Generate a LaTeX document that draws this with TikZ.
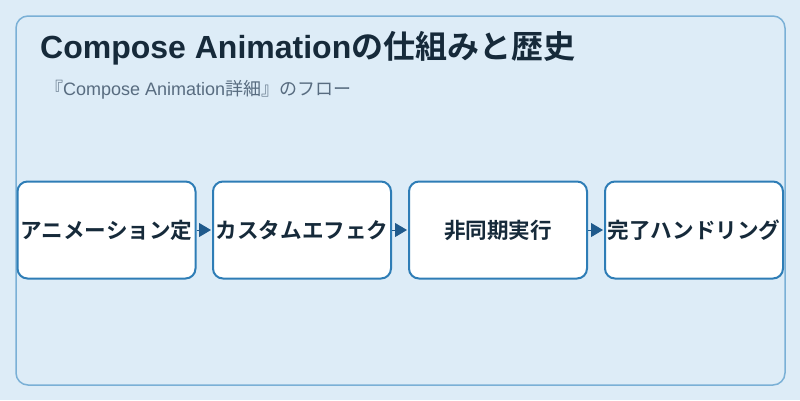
\documentclass[tikz,border=0pt]{standalone}
\usepackage{fontspec}
\setmainfont{Liberation Sans}
\newfontfamily\jpfont{Noto Sans CJK JP}
\newfontfamily\jpbold{Noto Sans CJK JP Bold}
\newfontfamily\latbold{Liberation Sans Bold}
\newfontfamily\latreg{Liberation Sans}
\usetikzlibrary{arrows.meta}
\definecolor{bgcol}{RGB}{221,236,247}
\definecolor{framecol}{RGB}{122,176,214}
\definecolor{boxcol}{RGB}{46,125,182}
\definecolor{arrcol}{RGB}{31,90,140}
\definecolor{titlecol}{RGB}{22,42,58}
\definecolor{subcol}{RGB}{88,108,128}
\tikzset{
  stepbox/.style={draw=boxcol, line width=2pt, fill=white, rounded corners=10pt,
    minimum width=178pt, minimum height=97pt, inner sep=0pt,
    font=\jpbold\fontsize{21.6}{26}\selectfont, text=titlecol},
  flowarrow/.style={draw=arrcol, line width=1pt, -{Triangle[length=12pt,width=14pt]}, fill=arrcol, shorten >=1pt}
}
\begin{document}
\begin{tikzpicture}[x=1pt,y=-1pt]
\useasboundingbox[fill=bgcol] (0,0) rectangle (800,400);
\draw[framecol, line width=1.5pt, rounded corners=12pt] (16,16) rectangle (785,385);
\node[anchor=base west, inner sep=0pt, text=titlecol, font=\fontsize{32}{36}\selectfont] (title) at (40,58) {\latbold Compose Animation\jpbold の仕組みと歴史};
\node[anchor=base west, inner sep=0pt, text=subcol, font=\fontsize{18}{22}\selectfont] (sub) at (45,95) {\jpfont 『\latreg Compose Animation\jpfont 詳細』のフロー};
\node[stepbox] (s1) at (106.5,230) {アニメーション定};
\node[stepbox] (s2) at (302,230) {カスタムエフェク};
\node[stepbox] (s3) at (498,230) {非同期実行};
\node[stepbox] (s4) at (694,230) {完了ハンドリング};
\draw[flowarrow] (s1.east) -- (s2.west);
\draw[flowarrow] (s2.east) -- (s3.west);
\draw[flowarrow] (s3.east) -- (s4.west);
\end{tikzpicture}
\end{document}
